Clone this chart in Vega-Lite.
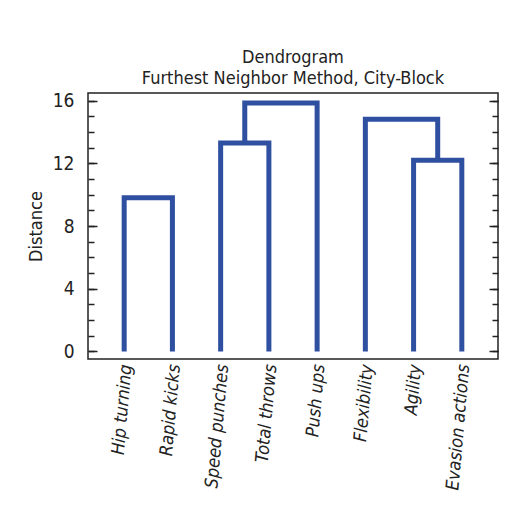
{
  "$schema": "https://vega.github.io/schema/vega-lite/v6.json",
  "autosize": "none",
  "padding": {"left": 88, "top": 93, "right": 11, "bottom": 157},
  "width": 410,
  "height": 266,
  "background": "white",
  "config": {
    "font": "DejaVu Sans Condensed, sans-serif",
    "view": {"stroke": "#222", "strokeWidth": 1.5},
    "axis": {"grid": false, "domain": false, "labelColor": "#222", "titleColor": "#222", "tickColor": "#222", "tickWidth": 1.5, "labelFont": "DejaVu Sans Condensed, sans-serif", "titleFont": "DejaVu Sans Condensed, sans-serif"}
  },
  "title": {
    "text": ["Dendrogram", "Furthest Neighbor Method, City-Block"],
    "anchor": "middle",
    "frame": "group",
    "fontSize": 18,
    "fontWeight": "normal",
    "color": "#222",
    "lineHeight": 21,
    "offset": 4,
    "font": "DejaVu Sans Condensed, sans-serif"
  },
  "data": {
    "values": [
      {"link": "a", "i": 0, "x": 1, "y": 0},
      {"link": "a", "i": 1, "x": 1, "y": 9.8},
      {"link": "a", "i": 2, "x": 2, "y": 9.8},
      {"link": "a", "i": 3, "x": 2, "y": 0},
      {"link": "b", "i": 0, "x": 3, "y": 0},
      {"link": "b", "i": 1, "x": 3, "y": 13.3},
      {"link": "b", "i": 2, "x": 4, "y": 13.3},
      {"link": "b", "i": 3, "x": 4, "y": 0},
      {"link": "c", "i": 0, "x": 3.5, "y": 13.3},
      {"link": "c", "i": 1, "x": 3.5, "y": 15.85},
      {"link": "c", "i": 2, "x": 5, "y": 15.85},
      {"link": "c", "i": 3, "x": 5, "y": 0},
      {"link": "d", "i": 0, "x": 7, "y": 0},
      {"link": "d", "i": 1, "x": 7, "y": 12.2},
      {"link": "d", "i": 2, "x": 8, "y": 12.2},
      {"link": "d", "i": 3, "x": 8, "y": 0},
      {"link": "e", "i": 0, "x": 6, "y": 0},
      {"link": "e", "i": 1, "x": 6, "y": 14.8},
      {"link": "e", "i": 2, "x": 7.5, "y": 14.8},
      {"link": "e", "i": 3, "x": 7.5, "y": 12.2}
    ]
  },
  "encoding": {
    "x": {
      "field": "x", "type": "quantitative",
      "scale": {"domain": [0.25, 8.75], "nice": false, "zero": false},
      "axis": {
        "orient": "bottom", "title": null, "values": [1, 2, 3, 4, 5, 6, 7, 8],
        "ticks": false, "labelAngle": -85, "labelAlign": "right", "labelBaseline": "middle",
        "labelFontStyle": "italic", "labelFontSize": 18, "labelPadding": 5, "labelOverlap": false, "labelOffset": 2,
        "labelExpr": "['Hip turning','Rapid kicks','Speed punches','Total throws','Push ups','Flexibility','Agility','Evasion actions'][datum.value - 1]"
      }
    },
    "detail": {"field": "link"},
    "order": {"field": "i", "type": "quantitative"}
  },
  "layer": [
    {
      "mark": {"type": "line", "stroke": "#2f4fa0", "strokeWidth": 5, "strokeJoin": "miter", "strokeCap": "butt"},
      "encoding": {
        "y": {"field": "y", "type": "quantitative", "scale": {"domain": [-0.48, 16.48], "nice": false, "zero": false},
          "axis": {"orient": "left", "title": "Distance", "titleFontSize": 18, "titleFontWeight": "normal", "titlePadding": 7,
            "values": [0, 4, 8, 12, 16], "tickSize": -9, "labelFontSize": 19, "labelPadding": 23}}
      }
    },
    {
      "mark": {"type": "line", "strokeOpacity": 0},
      "encoding": {
        "y": {"field": "y", "type": "quantitative",
          "axis": {"orient": "left", "title": null, "labels": false, "values": [0,1,2,3,4,5,6,7,8,9,10,11,12,13,14,15,16], "tickSize": -6}}
      }
    },
    {
      "mark": {"type": "line", "strokeOpacity": 0},
      "encoding": {
        "y": {"field": "y", "type": "quantitative",
          "axis": {"orient": "right", "title": null, "labels": false, "values": [0, 4, 8, 12, 16], "tickSize": -9}}
      }
    },
    {
      "mark": {"type": "line", "strokeOpacity": 0},
      "encoding": {
        "y": {"field": "y", "type": "quantitative",
          "axis": {"orient": "right", "title": null, "labels": false, "values": [0,1,2,3,4,5,6,7,8,9,10,11,12,13,14,15,16], "tickSize": -6}}
      }
    }
  ],
  "resolve": {"axis": {"y": "independent"}}
}
